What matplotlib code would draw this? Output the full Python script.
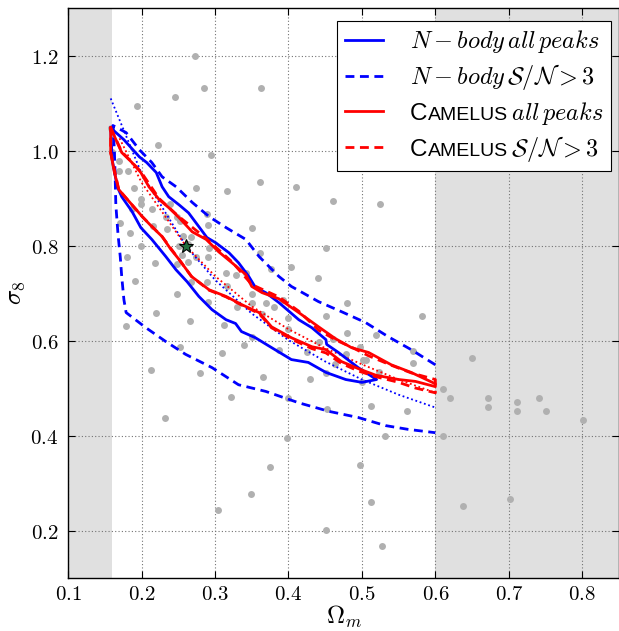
import numpy as np
import matplotlib
matplotlib.use("Agg")
import matplotlib.pyplot as plt
from matplotlib.ticker import FuncFormatter
from matplotlib.offsetbox import HPacker, TextArea

plt.rcParams['mathtext.fontset'] = 'cm'
plt.rcParams['font.family'] = ['DejaVu Sans']

# simulation nodes in the (Omega_m, sigma_8) plane
nodes_om = [0.273, 0.285, 0.245, 0.362, 0.194, 0.158, 0.160, 0.222, 0.294, 0.169,
            0.169, 0.182, 0.361, 0.410, 0.316, 0.274, 0.460, 0.524, 0.190, 0.199,
            0.199, 0.187, 0.214, 0.239, 0.289, 0.248, 0.233, 0.171, 0.216, 0.290,
            0.350, 0.184, 0.235, 0.252, 0.256, 0.267, 0.199, 0.251, 0.263, 0.292,
            0.361, 0.180, 0.255, 0.274, 0.451, 0.218, 0.263, 0.248, 0.290, 0.191,
            0.267, 0.289, 0.315, 0.328, 0.342, 0.316, 0.248, 0.290, 0.350, 0.220,
            0.179, 0.266, 0.312, 0.330, 0.351, 0.364, 0.252, 0.339, 0.309, 0.213,
            0.279, 0.365, 0.322, 0.232, 0.349, 0.304, 0.375, 0.403, 0.376, 0.440,
            0.480, 0.392, 0.380, 0.369, 0.451, 0.582, 0.480, 0.519, 0.400, 0.350,
            0.399, 0.387, 0.442, 0.460, 0.425, 0.479, 0.498, 0.501, 0.506, 0.464,
            0.570, 0.570, 0.523, 0.430, 0.451, 0.500, 0.513, 0.452, 0.561, 0.399,
            0.531, 0.398, 0.497, 0.513, 0.451, 0.528, 0.650, 0.611, 0.620, 0.671,
            0.671, 0.711, 0.711, 0.741, 0.751, 0.801, 0.611, 0.638, 0.702]
nodes_s8 = [1.200, 1.131, 1.114, 1.131, 1.093, 1.048, 0.998, 1.011, 0.990, 0.979,
            0.958, 0.958, 0.933, 0.924, 0.914, 0.922, 0.895, 0.888, 0.922, 0.899,
            0.888, 0.878, 0.878, 0.888, 0.867, 0.861, 0.861, 0.848, 0.842, 0.844,
            0.838, 0.827, 0.836, 0.851, 0.821, 0.819, 0.800, 0.800, 0.804, 0.796,
            0.785, 0.775, 0.781, 0.777, 0.794, 0.764, 0.766, 0.762, 0.775, 0.726,
            0.724, 0.724, 0.743, 0.739, 0.743, 0.716, 0.699, 0.682, 0.699, 0.659,
            0.630, 0.642, 0.632, 0.670, 0.680, 0.655, 0.587, 0.590, 0.573, 0.537,
            0.531, 0.524, 0.482, 0.436, 0.276, 0.244, 0.333, 0.756, 0.750, 0.731,
            0.680, 0.686, 0.670, 0.680, 0.651, 0.651, 0.615, 0.611, 0.625, 0.608,
            0.648, 0.581, 0.598, 0.604, 0.575, 0.571, 0.587, 0.560, 0.560, 0.550,
            0.579, 0.552, 0.533, 0.520, 0.531, 0.512, 0.463, 0.455, 0.451, 0.480,
            0.400, 0.394, 0.339, 0.259, 0.202, 0.168, 0.564, 0.499, 0.480, 0.480,
            0.461, 0.470, 0.451, 0.480, 0.451, 0.432, 0.398, 0.251, 0.267]

fiducial_om, fiducial_s8 = 0.26, 0.80

# N-body, all peaks (closed contour)
nb_all_om = [0.158, 0.176, 0.197, 0.207, 0.220, 0.228, 0.237, 0.251, 0.264, 0.278,
             0.289, 0.301, 0.319, 0.332, 0.346, 0.355, 0.369, 0.387, 0.414, 0.432,
             0.451, 0.452, 0.468, 0.495, 0.520,
             0.500, 0.478, 0.451, 0.427, 0.404, 0.373, 0.355, 0.336, 0.328, 0.315,
             0.296, 0.278, 0.262, 0.247, 0.233, 0.214, 0.199, 0.187, 0.173, 0.167,
             0.160, 0.158]
nb_all_s8 = [1.048, 1.023, 0.987, 0.975, 0.954, 0.924, 0.903, 0.886, 0.869, 0.840,
             0.817, 0.806, 0.785, 0.764, 0.735, 0.712, 0.701, 0.680, 0.644, 0.627,
             0.602, 0.592, 0.575, 0.543, 0.518,
             0.512, 0.518, 0.533, 0.554, 0.560, 0.589, 0.606, 0.619, 0.636, 0.644,
             0.665, 0.693, 0.724, 0.749, 0.777, 0.813, 0.838, 0.872, 0.903, 0.924,
             0.981, 1.048]

# N-body, S/N > 3 (cut by the prior at Omega_m = 0.6)
nb_snr_om = [0.600, 0.567, 0.536, 0.505, 0.472, 0.441, 0.404, 0.387, 0.360, 0.342,
             0.315, 0.292, 0.269, 0.247, 0.228, 0.214, 0.197, 0.179, 0.161,
             0.163, 0.164, 0.165, 0.168, 0.171, 0.173, 0.176, 0.179,
             0.206, 0.233, 0.260, 0.296, 0.332, 0.369, 0.414, 0.455, 0.495, 0.532,
             0.563, 0.600]
nb_snr_s8 = [0.549, 0.581, 0.608, 0.638, 0.661, 0.682, 0.714, 0.735, 0.777, 0.813,
             0.838, 0.861, 0.891, 0.924, 0.945, 0.975, 1.002, 1.038, 1.053,
             1.002, 0.949, 0.886, 0.823, 0.777, 0.735, 0.686, 0.659,
             0.627, 0.598, 0.571, 0.543, 0.507, 0.493, 0.469, 0.451, 0.438, 0.421,
             0.413, 0.406]

# Camelus, all peaks
cm_all_om = [0.158, 0.173, 0.187, 0.199, 0.210, 0.224, 0.237, 0.251, 0.269, 0.288,
             0.305, 0.323, 0.342, 0.350, 0.364, 0.387, 0.414, 0.441, 0.464, 0.486,
             0.509, 0.540, 0.567, 0.600,
             0.600, 0.573, 0.550, 0.519, 0.495, 0.472, 0.451, 0.432, 0.404, 0.377,
             0.360, 0.336, 0.315, 0.292, 0.268, 0.251, 0.240, 0.228, 0.214, 0.201,
             0.187, 0.169, 0.163, 0.158, 0.158]
cm_all_s8 = [1.048, 0.996, 0.975, 0.954, 0.924, 0.897, 0.880, 0.859, 0.829, 0.813,
             0.787, 0.764, 0.739, 0.714, 0.701, 0.688, 0.659, 0.629, 0.604, 0.585,
             0.575, 0.549, 0.533, 0.509,
             0.503, 0.514, 0.518, 0.527, 0.541, 0.556, 0.581, 0.587, 0.606, 0.629,
             0.659, 0.676, 0.693, 0.707, 0.735, 0.771, 0.792, 0.819, 0.840, 0.861,
             0.886, 0.918, 0.954, 0.996, 1.048]

# Camelus, S/N > 3
cm_snr_om = [0.158, 0.173, 0.199, 0.224, 0.251, 0.288, 0.323, 0.350, 0.387, 0.414,
             0.441, 0.466, 0.486, 0.509, 0.540, 0.567, 0.600,
             0.600, 0.573, 0.550, 0.519, 0.495, 0.472, 0.451, 0.432, 0.404, 0.377,
             0.360, 0.336, 0.315, 0.292, 0.268, 0.251, 0.228, 0.201, 0.169, 0.158,
             0.158]
cm_snr_s8 = [1.048, 0.998, 0.956, 0.899, 0.861, 0.815, 0.766, 0.718, 0.692, 0.662,
             0.622, 0.600, 0.586, 0.568, 0.548, 0.532, 0.518,
             0.490, 0.500, 0.512, 0.524, 0.536, 0.552, 0.574, 0.583, 0.603, 0.627,
             0.657, 0.675, 0.692, 0.706, 0.735, 0.771, 0.819, 0.861, 0.918, 0.996,
             1.048]

# degeneracy lines
deg_nb_om = [0.158, 0.20, 0.26, 0.30, 0.35, 0.40, 0.45, 0.50, 0.55, 0.60]
deg_nb_s8 = [1.110, 0.952, 0.800, 0.728, 0.657, 0.601, 0.556, 0.518, 0.486, 0.459]
deg_cm_om = [0.17, 0.20, 0.26, 0.30, 0.35, 0.40, 0.45, 0.50, 0.55, 0.60]
deg_cm_s8 = [1.026, 0.933, 0.800, 0.736, 0.672, 0.624, 0.584, 0.550, 0.518, 0.490]

fig = plt.figure(figsize=(6.19, 6.31), dpi=100)
ax = fig.add_axes([0.110, 0.084, 0.890, 0.903])

ax.axvspan(0.1, 0.16, color='#e0e0e0', lw=0, zorder=0)
ax.axvspan(0.6, 0.85, color='#e0e0e0', lw=0, zorder=0)

ax.plot(nodes_om, nodes_s8, 'o', color='#b0b0b0', ms=5, mec='none', zorder=2)

dash = (3.2, 2.0)
ax.plot(nb_all_om, nb_all_s8, '-', color='b', lw=2, zorder=4, label=r'$N-body\,all\,peaks$')
ax.plot(nb_snr_om, nb_snr_s8, '--', color='b', lw=2, dashes=dash, zorder=4,
        label=r'$N-body\,\mathcal{S}/\mathcal{N}>3$')
ax.plot(cm_all_om, cm_all_s8, '-', color='r', lw=2, zorder=5, label=r'$all\,peaks$')
ax.plot(cm_snr_om, cm_snr_s8, '--', color='r', lw=2, dashes=dash, zorder=5,
        label=r'$\mathcal{S}/\mathcal{N}>3$')

ax.plot(deg_nb_om, deg_nb_s8, color='b', lw=1.3, linestyle=(0, (1, 1.5)), zorder=3)
ax.plot(deg_cm_om, deg_cm_s8, color='r', lw=1.3, linestyle=(0, (1, 1.5)), zorder=3)

ax.plot([fiducial_om], [fiducial_s8], '*', ms=10, mfc='#1f6f3f', mec='k', mew=0.8, zorder=6)

ax.set_xlim(0.1, 0.85)
ax.set_ylim(0.1, 1.3)
ax.set_xticks(np.arange(0.1, 0.81, 0.1))
ax.set_yticks(np.arange(0.2, 1.21, 0.2))
fmt = FuncFormatter(lambda v, p: r'$%.1f$' % v)
ax.xaxis.set_major_formatter(fmt)
ax.yaxis.set_major_formatter(fmt)
ax.tick_params(direction='in', top=True, right=True, length=5, labelsize=15)
ax.tick_params(axis='x', pad=4)
ax.tick_params(axis='y', pad=7)
ax.grid(True, color='0.45', linestyle=(0, (1, 2)), linewidth=0.8, zorder=1)
ax.set_axisbelow(True)
for s in ax.spines.values():
    s.set_linewidth(1.0)

ax.set_xlabel(r'$\Omega_m$', fontsize=18, labelpad=0)
ax.set_ylabel(r'$\sigma_8$', fontsize=18, labelpad=2)

leg_size = 17.5
leg = ax.legend(loc='upper right', bbox_to_anchor=(0.985, 0.978), fontsize=leg_size,
                handlelength=1.6, handletextpad=1.1, labelspacing=0.3, borderpad=0.3,
                borderaxespad=0, fancybox=False, framealpha=1, edgecolor='k')
leg.get_frame().set_linewidth(0.8)

# small-caps code name in front of the Camelus labels
rows = leg._legend_handle_box.get_children()[0].get_children()
for row in rows[2:]:
    old = row.get_children()[1]
    math = old._text.get_text()
    name = HPacker(children=[
        TextArea('C', textprops=dict(size=leg_size, family='Liberation Sans')),
        TextArea('AMELUS', textprops=dict(size=leg_size * 0.8, family='Liberation Sans')),
        TextArea(r'$\,$' + math, textprops=dict(size=leg_size)),
    ], align='baseline', pad=0, sep=0)
    name.set_figure(fig)
    row._children[1] = name

fig.savefig('out.png', dpi=100)
